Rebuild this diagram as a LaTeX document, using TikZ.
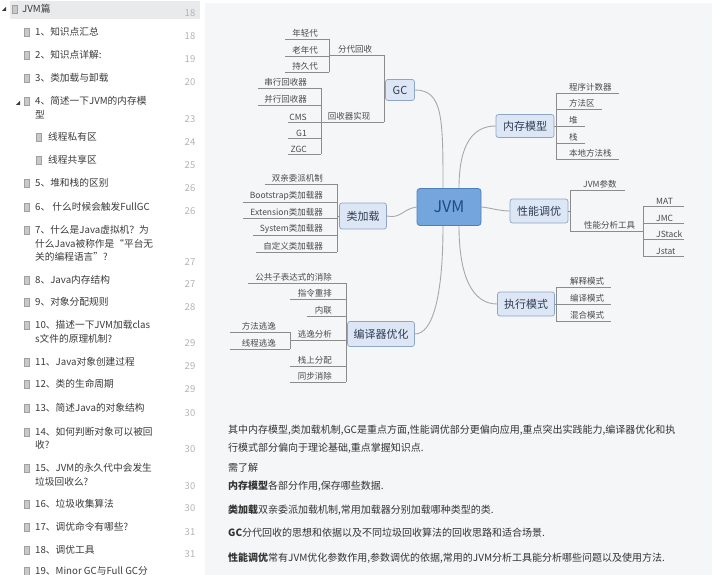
\documentclass[tikz,border=0pt]{standalone}
\usepackage{fontspec}
\setmainfont{Noto Sans CJK SC}
\usetikzlibrary{calc}
\definecolor{mainbg}{HTML}{F5F6F8}
\definecolor{hl}{HTML}{E9EAEC}
\definecolor{linec}{HTML}{8C8C8C}
\definecolor{leaftext}{HTML}{4A4A4A}
\definecolor{topicb}{HTML}{8DA6C6}
\definecolor{topicf}{HTML}{DCE6F4}
\definecolor{topict}{HTML}{2E3B52}
\definecolor{jvmf}{HTML}{74A5DC}
\definecolor{jvmb}{HTML}{4F7FB8}
\definecolor{jvmt}{HTML}{1E4A85}
\definecolor{curvec}{HTML}{A8A8A8}
\definecolor{sidet}{HTML}{3A3A3A}
\definecolor{numc}{HTML}{B4B4B4}
\definecolor{iconc}{HTML}{C9C9C9}
\definecolor{iconb}{HTML}{A0A0A0}
\definecolor{bodyt}{HTML}{333333}
\tikzset{
 leaf/.style={font=\fontsize{8.5}{10}\selectfont, text=leaftext, inner xsep=4pt, inner ysep=1.2pt},
 leafR/.style={leaf, anchor=south east},
 leafL/.style={leaf, anchor=south west},
 ln/.style={draw=linec, line width=0.7pt},
 topic/.style={draw=topicb, fill=topicf, rounded corners=2.5pt, font=\fontsize{11}{13}\selectfont, text=topict, inner sep=0pt, line width=0.7pt},
 curve/.style={draw=curvec, line width=0.9pt},
 side/.style={font=\fontsize{9.7}{11}\selectfont, text=sidet, anchor=west, inner sep=0pt},
 pnum/.style={font=\fontsize{9.5}{11}\selectfont, text=numc, inner sep=0pt},
 icon/.style={fill=iconc, draw=iconb, line width=0.4pt, minimum width=5pt, minimum height=8pt, inner sep=0pt},
 body/.style={font=\fontsize{10}{12}\selectfont, text=bodyt, anchor=west, inner sep=0pt},
}
\begin{document}
\begin{tikzpicture}[x=1pt,y=-1pt]
\useasboundingbox (0,0) rectangle (720,575);
\fill[white] (0,0) rectangle (720,575);
\fill[mainbg] (205,3) rectangle (712,575);

% ---------------- sidebar ----------------
\fill[hl] (10,1) rectangle (200,19);
\fill[sidet] (2,11) -- (6,11) -- (6,7) -- cycle;
\fill[sidet] (16,105) -- (20,105) -- (20,101) -- cycle;
\node[icon] (i0) at (14.5,9) {};
\node[side] (s0) at (22,9) {JVM篇};
\node[pnum] (n0) at (190,13) {18};

\node[icon] (i1) at (26.5,32) {};
\node[side] (s1) at (35,32) {1、知识点汇总};
\node[pnum] (n1) at (190,36) {18};
\node[icon] (i2) at (26.5,55) {};
\node[side] (s2) at (35,55) {2、知识点详解:};
\node[pnum] (n2) at (190,59) {19};
\node[icon] (i3) at (26.5,78) {};
\node[side] (s3) at (35,78) {3、类加载与卸载};
\node[pnum] (n3) at (190,82) {20};
\node[icon] (i4) at (26.5,101) {};
\node[side] (s4) at (35,101) {4、简述一下JVM的内存模};
\node[side] (s4b) at (35,115) {型};
\node[pnum] (n4) at (190,119) {23};
\node[icon] (i41) at (38.5,137) {};
\node[side] (s41) at (48,137) {线程私有区};
\node[pnum] (n41) at (190,142) {24};
\node[icon] (i42) at (38.5,160) {};
\node[side] (s42) at (48,160) {线程共享区};
\node[pnum] (n42) at (190,165) {25};
\node[icon] (i5) at (26.5,183) {};
\node[side] (s5) at (35,183) {5、堆和栈的区别};
\node[pnum] (n5) at (190,188) {26};
\node[icon] (i6) at (26.5,207) {};
\node[side] (s6) at (35,207) {6、 什么时候会触发FullGC};
\node[pnum] (n6) at (190,211) {26};
\node[icon] (i7) at (26.5,230) {};
\node[side] (s7) at (35,230) {7、什么是Java虚拟机？为};
\node[side] (s7b) at (35,244) {什么Java被称作是“平台无};
\node[side] (s7c) at (35,257) {关的编程语言”?};
\node[pnum] (n7) at (190,262) {27};
\node[icon] (i8) at (26.5,280) {};
\node[side] (s8) at (35,280) {8、Java内存结构};
\node[pnum] (n8) at (190,284) {27};
\node[icon] (i9) at (26.5,302) {};
\node[side] (s9) at (35,302) {9、对象分配规则};
\node[pnum] (n9) at (190,307) {28};
\node[icon] (i10) at (26.5,325) {};
\node[side] (s10) at (35,325) {10、描述一下JVM加载clas};
\node[side] (s10b) at (35,339) {s文件的原理机制?};
\node[pnum] (n10) at (190,343) {29};
\node[icon] (i11) at (26.5,362) {};
\node[side] (s11) at (35,362) {11、Java对象创建过程};
\node[pnum] (n11) at (190,366) {29};
\node[icon] (i12) at (26.5,384) {};
\node[side] (s12) at (35,384) {12、类的生命周期};
\node[pnum] (n12) at (190,389) {29};
\node[icon] (i13) at (26.5,408) {};
\node[side] (s13) at (35,408) {13、简述Java的对象结构};
\node[pnum] (n13) at (190,413) {30};
\node[icon] (i14) at (26.5,432) {};
\node[side] (s14) at (35,432) {14、如何判断对象可以被回};
\node[side] (s14b) at (35,445) {收?};
\node[pnum] (n14) at (190,449) {30};
\node[icon] (i15) at (26.5,468) {};
\node[side] (s15) at (35,468) {15、JVM的永久代中会发生};
\node[side] (s15b) at (35,482) {垃圾回收么?};
\node[pnum] (n15) at (190,486) {30};
\node[icon] (i16) at (26.5,504) {};
\node[side] (s16) at (35,504) {16、垃圾收集算法};
\node[pnum] (n16) at (190,508) {30};
\node[icon] (i17) at (26.5,527) {};
\node[side] (s17) at (35,527) {17、调优命令有哪些?};
\node[pnum] (n17) at (190,532) {31};
\node[icon] (i18) at (26.5,550) {};
\node[side] (s18) at (35,550) {18、调优工具};
\node[pnum] (n18) at (190,554) {31};
\node[icon] (i19) at (26.5,571) {};
\node[side] (s19) at (35,571) {19、Minor GC与Full GC分};

% ---------------- mind map: topics ----------------
\node[draw=jvmb, fill=jvmf, rounded corners=3pt, line width=0.8pt, minimum width=64pt, minimum height=37pt, inner sep=0pt, font=\fontsize{16}{18}\selectfont, text=jvmt] (jvm) at (449,207) {JVM};
\node[topic, minimum width=29pt, minimum height=21pt] (gc) at (400,90) {GC};
\node[topic, minimum width=47pt, minimum height=26pt] (ljz) at (363,216) {类加载};
\node[topic, minimum width=67pt, minimum height=25pt] (byq) at (381,334) {编译器优化};
\node[topic, minimum width=58pt, minimum height=23pt] (ncm) at (525,126) {内存模型};
\node[topic, minimum width=58pt, minimum height=24pt] (xn) at (539,211) {性能调优};
\node[topic, minimum width=57pt, minimum height=24pt] (zx) at (526,304) {执行模式};

% curves from JVM
\draw[curve] ($(jvm.north)+(-6,0)$) .. controls +(0,-70) and +(28,0) .. (gc.east);
\draw[curve] ($(jvm.north)+(10,0)$) .. controls +(0,-45) and +(-22,0) .. (ncm.west);
\draw[curve] (jvm.east) .. controls +(10,1) and +(-10,0) .. (xn.west);
\draw[curve] ($(jvm.south)+(10,0)$) .. controls +(0,50) and +(-25,0) .. (zx.west);
\draw[curve] (jvm.west) .. controls +(-14,2) and +(14,3) .. (ljz.east);
\draw[curve] ($(jvm.south)+(-6,0)$) .. controls +(0,70) and +(18,0) .. (byq.east);

% ---------------- GC branch ----------------
\coordinate (gcS) at (384,90);
\coordinate (fdS) at (329,55);
\coordinate (hsS) at (321,122);
\node[leaf, anchor=south] (fd) at (355,55) {分代回收};
\node[leaf, anchor=south] (hs) at (349,122) {回收器实现};
\draw[ln] (gc.west) -- (gc.west -| gcS);
\draw[ln] (fd.south -| gcS) -- (hs.south -| gcS);
\draw[ln] (fd.south -| fdS) -- (fd.south -| gcS);
\draw[ln] (hs.south -| hsS) -- (hs.south -| gcS);

\node[leafR] (g1) at (322,39) {年轻代};
\node[leafR] (g2) at (322,56) {老年代};
\node[leafR] (g3) at (322,72) {持久代};
\foreach \n in {g1,g2,g3} \draw[ln] ($(\n.south west)+(-3,0)$) -- (\n.south -| fdS);
\draw[ln] (g1.south -| fdS) -- (g3.south -| fdS);

\node[leafR] (h1) at (311,88) {串行回收器};
\node[leafR] (h2) at (311,105) {并行回收器};
\node[leafR] (h3) at (311,122) {CMS};
\node[leafR] (h4) at (311,138) {G1};
\node[leafR] (h5) at (311,154) {ZGC};
\draw[ln] ($(h1.south west)+(-2,0)$) -- (h1.south -| hsS);
\draw[ln] ($(h2.south west)+(-2,0)$) -- (h2.south -| hsS);
\draw[ln] (h3.south -| g1.south west) -- (h3.south -| hsS);
\draw[ln] (h4.south -| g1.south west) -- (h4.south -| hsS);
\draw[ln] (h5.south -| g1.south west) -- (h5.south -| hsS);
\draw[ln] (h1.south -| hsS) -- (h5.south -| hsS);

% ---------------- class loading branch ----------------
\coordinate (ljS) at (337,216);
\draw[ln] (ljz.west) -- (ljz.west -| ljS);
\node[leafR] (l1) at (327,184) {双亲委派机制};
\node[leafR] (l2) at (327,202) {Bootstrap类加载器};
\node[leafR] (l3) at (327,218) {Extension类加载器};
\node[leafR] (l4) at (327,235) {System类加载器};
\node[leafR] (l5) at (327,252) {自定义类加载器};
\foreach \n in {l1,l2,l3,l4,l5} \draw[ln] ($(\n.south west)+(-3,0)$) -- (\n.south -| ljS);
\draw[ln] (l1.south -| ljS) -- (l5.south -| ljS);

% ---------------- compiler branch ----------------
\coordinate (bqS) at (346,334);
\coordinate (tyS) at (290,340);
\draw[ln] (byq.west) -- (byq.west -| bqS);
\node[leafR] (b1) at (336,283) {公共子表达式的消除};
\node[leafR] (b2) at (336,299) {指令重排};
\node[leafR] (b3) at (336,316) {内联};
\node[leafR] (b4) at (336,340) {逃逸分析};
\node[leafR] (b5) at (336,366) {栈上分配};
\node[leafR] (b6) at (336,382) {同步消除};
\draw[ln] ($(b1.south west)+(-3,0)$) -- (b1.south -| bqS);
\foreach \n in {b2,b3,b5,b6} \draw[ln] ($(\n.south west)+(-4,0)$) -- (\n.south -| bqS);
\draw[ln] (b4.south -| tyS) -- (b4.south -| bqS);
\draw[ln] (b1.south -| bqS) -- (b6.south -| bqS);
\node[leafR] (t1) at (280,332) {方法逃逸};
\node[leafR] (t2) at (280,349) {线程逃逸};
\foreach \n in {t1,t2} \draw[ln] ($(\n.south west)+(-8,0)$) -- (\n.south -| tyS);
\draw[ln] (t1.south -| tyS) -- (t2.south -| tyS);

% ---------------- memory model branch ----------------
\coordinate (ncS) at (556,126);
\draw[ln] (ncm.east) -- (ncm.east -| ncS);
\node[leafL] (m1) at (565,93) {程序计数器};
\node[leafL] (m2) at (565,109) {方法区};
\node[leafL] (m3) at (565,126) {堆};
\node[leafL] (m4) at (565,143) {栈};
\node[leafL] (m5) at (565,159) {本地方法栈};
\foreach \n in {m1,m2,m3,m4,m5} \draw[ln] (\n.south -| ncS) -- ($(\n.south east)+(3,0)$);
\draw[ln] (m1.south -| ncS) -- (m5.south -| ncS);

% ---------------- tuning branch ----------------
\coordinate (xnS) at (570,211);
\coordinate (gjS) at (643,231);
\draw[ln] (xn.east) -- (xn.east -| xnS);
\node[leafL] (x1) at (579,190) {JVM参数};
\node[leafL] (x2) at (580,231) {性能分析工具};
\draw[ln] (x1.south -| xnS) -- ($(x1.south east)+(4,0)$);
\draw[ln] (x2.south -| xnS) -- (x2.south -| gjS);
\draw[ln] (x1.south -| xnS) -- (x2.south -| xnS);
\node[leafL] (j1) at (652,206) {MAT};
\node[leafL] (j2) at (652,223) {JMC};
\node[leafL] (j3) at (652,239) {JStack};
\node[leafL] (j4) at (652,256) {Jstat};
\foreach \n in {j1,j2,j3,j4} \draw[ln] (\n.south -| gjS) -- (\n.south -| 684,0);
\draw[ln] (j1.south -| gjS) -- (j4.south -| gjS);

% ---------------- execution branch ----------------
\coordinate (zxS) at (556,304);
\draw[ln] (zx.east) -- (zx.east -| zxS);
\node[leafL] (e1) at (566,287) {解释模式};
\node[leafL] (e2) at (566,304) {编译模式};
\node[leafL] (e3) at (566,321) {混合模式};
\foreach \n in {e1,e2,e3} \draw[ln] (\n.south -| zxS) -- ($(\n.south east)+(3,0)$);
\draw[ln] (e1.south -| zxS) -- (e3.south -| zxS);

% ---------------- body text ----------------
\node[body] (p1) at (228,430) {其中内存模型,类加载机制,GC是重点方面,性能调优部分更偏向应用,重点突出实践能力,编译器优化和执};
\node[body] (p2) at (228,448) {行模式部分偏向于理论基础,重点掌握知识点.};
\node[body] (p3) at (228,468) {需了解};
\node[body] (p4) at (228,486) {{\bfseries 内存模型}各部分作用,保存哪些数据.};
\node[body] (p5) at (228,510) {{\bfseries 类加载}双亲委派加载机制,常用加载器分别加载哪种类型的类.};
\node[body] (p6) at (228,533) {{\bfseries GC}分代回收的思想和依据以及不同垃圾回收算法的回收思路和适合场景.};
\node[body] (p7) at (228,558) {{\bfseries 性能调优}常有JVM优化参数作用,参数调优的依据,常用的JVM分析工具能分析哪些问题以及使用方法.};
\end{tikzpicture}
\end{document}
